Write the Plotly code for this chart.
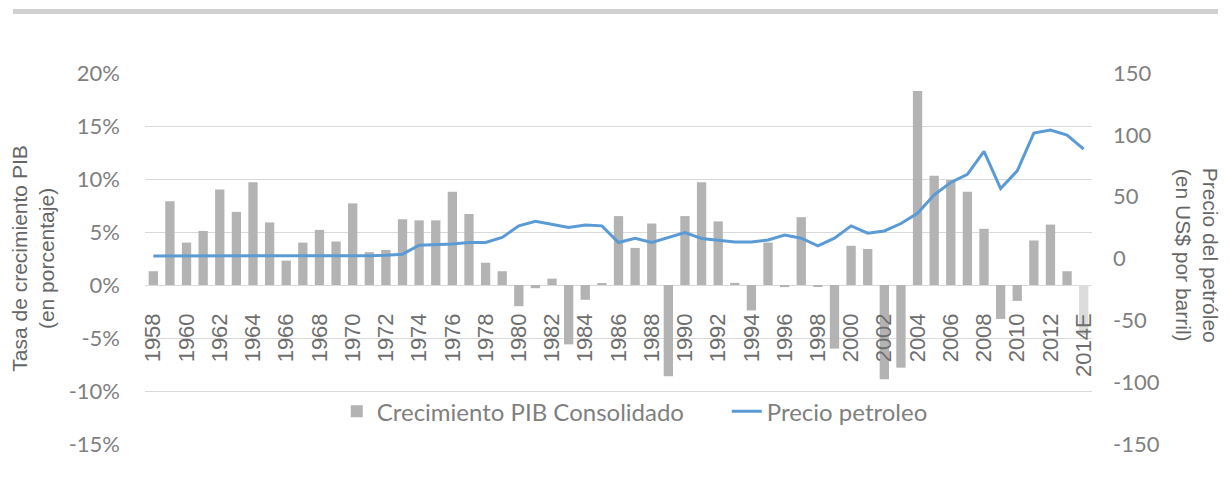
import plotly.graph_objects as go

years = ["1958", "1959", "1960", "1961", "1962", "1963", "1964", "1965", "1966", "1967",
         "1968", "1969", "1970", "1971", "1972", "1973", "1974", "1975", "1976", "1977",
         "1978", "1979", "1980", "1981", "1982", "1983", "1984", "1985", "1986", "1987",
         "1988", "1989", "1990", "1991", "1992", "1993", "1994", "1995", "1996", "1997",
         "1998", "1999", "2000", "2001", "2002", "2003", "2004", "2005", "2006", "2007",
         "2008", "2009", "2010", "2011", "2012", "2013", "2014E"]

pib_growth = [1.3, 7.9, 4.0, 5.1, 9.0, 6.9, 9.7, 5.9, 2.3, 4.0,
              5.2, 4.1, 7.7, 3.1, 3.3, 6.2, 6.1, 6.1, 8.8, 6.7,
              2.1, 1.3, -2.0, -0.3, 0.6, -5.6, -1.4, 0.1, 6.5, 3.5,
              5.8, -8.6, 6.5, 9.7, 6.0, 0.2, -2.4, 4.0, -0.2, 6.4,
              -0.1, -6.0, 3.7, 3.4, -8.9, -7.8, 18.3, 10.3, 9.9, 8.8,
              5.3, -3.2, -1.5, 4.2, 5.7, 1.3, -4.7]

oil_price = [2.1, 2.1, 2.0, 2.0, 2.0, 2.0, 2.0, 2.0, 1.9, 1.9,
             1.9, 1.9, 1.9, 2.3, 2.7, 3.5, 10.8, 11.3, 11.8, 12.9,
             12.9, 17.0, 26.4, 30.0, 27.7, 25.0, 27.0, 26.4, 12.9, 16.4,
             12.9, 17.0, 21.0, 16.2, 15.0, 13.4, 13.4, 15.0, 18.9, 16.4,
             10.2, 16.4, 26.4, 20.5, 22.3, 28.3, 36.6, 51.5, 61.5, 68.0,
             86.6, 56.6, 70.9, 101.4, 103.8, 99.8, 88.4]

x_tick_labels = ["1958", "1960", "1962", "1964", "1966", "1968", "1970", "1972", "1974",
                 "1976", "1978", "1980", "1982", "1984", "1986", "1988", "1990", "1992",
                 "1994", "1996", "1998", "2000", "2002", "2004", "2006", "2008", "2010",
                 "2012", "2014E"]
left_ticks = [-15, -10, -5, 0, 5, 10, 15, 20]
left_tick_text = ["-15%", "-10%", "-5%", "0%", "5%", "10%", "15%", "20%"]
right_ticks = [-150, -100, -50, 0, 50, 100, 150]
right_tick_text = ["-150", "-100", "-50", "0", "50", "100", "150"]

BAR = "#b3b3b3"
BAR_EST = "#dcdcdc"
LINE = "#5b9bd5"
GRID = "#d9d9d9"
TICK = "#7f7f7f"
TITLE = "#666666"

bar_colors = [BAR] * (len(years) - 1) + [BAR_EST]

fig = go.Figure()
fig.add_trace(go.Bar(
    x=years, y=pib_growth, name="Crecimiento PIB Consolidado",
    marker=dict(color=bar_colors, line=dict(width=0)),
    yaxis="y", xaxis="x",
))
fig.add_trace(go.Scatter(
    x=years, y=oil_price, name="Precio petroleo", mode="lines",
    line=dict(color=LINE, width=3), yaxis="y2", xaxis="x",
))

y_lo, y_hi = -15, 20
zero_pos = (0 - y_lo) / (y_hi - y_lo)

fig.update_layout(
    width=1221, height=484,
    margin=dict(l=137, r=137, t=65, b=48),
    paper_bgcolor="white", plot_bgcolor="white",
    bargap=0.44,
    showlegend=True,
    legend=dict(
        orientation="h", x=0.2025, y=0.148, xanchor="left", yanchor="top",
        bgcolor="rgba(255,255,255,0)", borderwidth=0,
        font=dict(family="Lato", size=24, color=TICK),
        entrywidth=345, entrywidthmode="pixels",
    ),
    xaxis=dict(
        type="category", categoryorder="array", categoryarray=years,
        range=[-0.5, len(years) - 0.5],
        anchor="free", position=zero_pos,
        showgrid=False, showline=False, zeroline=False, ticks="",
        tickmode="array", tickvals=x_tick_labels, ticktext=x_tick_labels,
        tickangle=-90, ticklabelstandoff=23,
        tickfont=dict(family="Liberation Sans, Arial", size=22, color="#6e6e6e"),
    ),
    yaxis=dict(
        range=[y_lo, y_hi], tickmode="array", tickvals=left_ticks, ticktext=left_tick_text,
        showgrid=True, gridcolor=GRID, gridwidth=1.3, zeroline=False, showline=False,
        ticks="", ticklabelstandoff=24,
        tickfont=dict(family="Lato", size=22, color=TICK),
        title=dict(text="Tasa de crecimiento PIB<br>(en porcentaje)", standoff=8,
                   font=dict(family="Liberation Sans, Arial", size=21, color=TITLE)),
    ),
    yaxis2=dict(
        range=[-150, 150], tickmode="array", tickvals=right_ticks, ticktext=right_tick_text,
        overlaying="y", side="right", showgrid=False, zeroline=False, showline=False,
        ticks="", ticklabelstandoff=20,
        tickfont=dict(family="Lato", size=22, color=TICK),
    ),
    annotations=[dict(
        text="Precio del petróleo<br>(en US$ por barril)", textangle=90,
        xref="paper", yref="paper", x=1.111, y=0.51, xanchor="center", yanchor="middle",
        showarrow=False, font=dict(family="Liberation Sans, Arial", size=21, color=TITLE),
    )],
    shapes=[
        dict(type="line", xref="paper", yref="paper", x0=-0.1394, x1=1.1331,
             y0=1.166, y1=1.166, line=dict(color="#d0d0d0", width=5)),
        dict(type="rect", xref="paper", yref="paper", x0=0.1549, x1=0.850,
             y0=0.032, y1=0.148, fillcolor="white", line=dict(width=0), layer="between"),
    ],
)

fig.write_html("out.html")
